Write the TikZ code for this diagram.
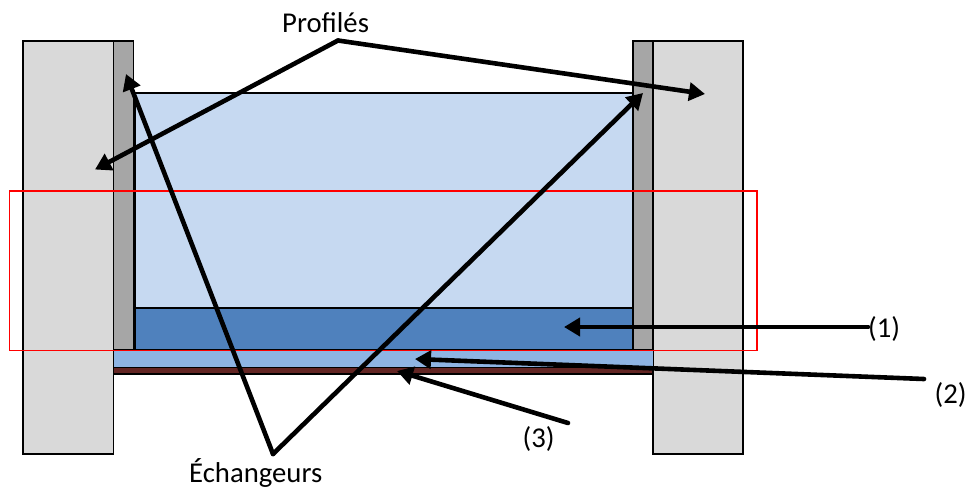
\documentclass[tikz,border=0pt]{standalone}
\usepackage{fontspec}
\setmainfont{Carlito}
\usetikzlibrary{arrows.meta}
\definecolor{wallgray}{HTML}{D9D9D9}
\definecolor{profgray}{HTML}{A6A6A6}
\definecolor{paleblue}{HTML}{C6D9F1}
\definecolor{deepblue}{HTML}{4F81BD}
\definecolor{midblue}{HTML}{8EB4E3}
\definecolor{brownred}{HTML}{632523}
\tikzset{
  x=1pt,y=-1pt,
  part/.style={draw=black,line width=1.6pt,line join=miter},
  leader/.style={draw=black,line width=4.6pt,line cap=round,line join=round},
  pointer/.style={leader,-{Triangle[length=16pt,width=18pt]}},
  lab/.style={inner sep=0pt,anchor=base west,font=\fontsize{28.7}{32}\selectfont,text=black}
}
\begin{document}
\begin{tikzpicture}
\useasboundingbox (0,0) rectangle (968,488);
% walls
\fill[white] (0,0) rectangle (968,488);
\draw[part,fill=wallgray] (23,41) rectangle (113.5,454);
\draw[part,fill=wallgray] (653,41) rectangle (743,454);
% profiles
\draw[part,fill=profgray] (113.5,41) rectangle (133.5,350);
\draw[part,fill=profgray] (633,41) rectangle (653,350);
% water layers
\draw[part,line width=1.3pt,fill=paleblue] (135,93) rectangle (633,308);
\draw[part,fill=deepblue] (135,308) rectangle (633,350);
\draw[part,draw=none,fill=midblue] (113.5,350) rectangle (653,367);
\draw[part,fill=brownred] (113.5,367.5) rectangle (653,374);
% red frame
\draw[draw=red,line width=1.6pt] (9.5,191) rectangle (757,350.5);
% labels
\node[lab] (prof) at (282,32) {Profilés};
\node[lab] (ech) at (189,482) {Échangeurs};
\node[lab] (l1) at (868,337) {(1)};
\node[lab] (l2) at (934.5,403) {(2)};
\node[lab] (l3) at (522.5,447) {(3)};
% leader end points
\coordinate (pa) at (338,40.5);
\coordinate (ea) at (273,454);
\coordinate (p1) at (95,169.5);
\coordinate (p2) at (705,94);
\coordinate (e1) at (126,74);
\coordinate (e2) at (643,93);
\coordinate (s1) at (868,327);
\coordinate (t1) at (564,327);
\coordinate (s2) at (924,379);
\coordinate (t2) at (415,359);
\coordinate (s3) at (568,423);
\coordinate (t3) at (397,371);
% leaders
\draw[pointer] (pa) -- (p1);
\draw[pointer] (pa) -- (p2);
\draw[pointer] (ea) -- (e1);
\draw[pointer] (ea) -- (e2);
\draw[pointer] (s1) -- (t1);
\draw[pointer] (s2) -- (t2);
\draw[pointer] (s3) -- (t3);
\end{tikzpicture}
\end{document}
